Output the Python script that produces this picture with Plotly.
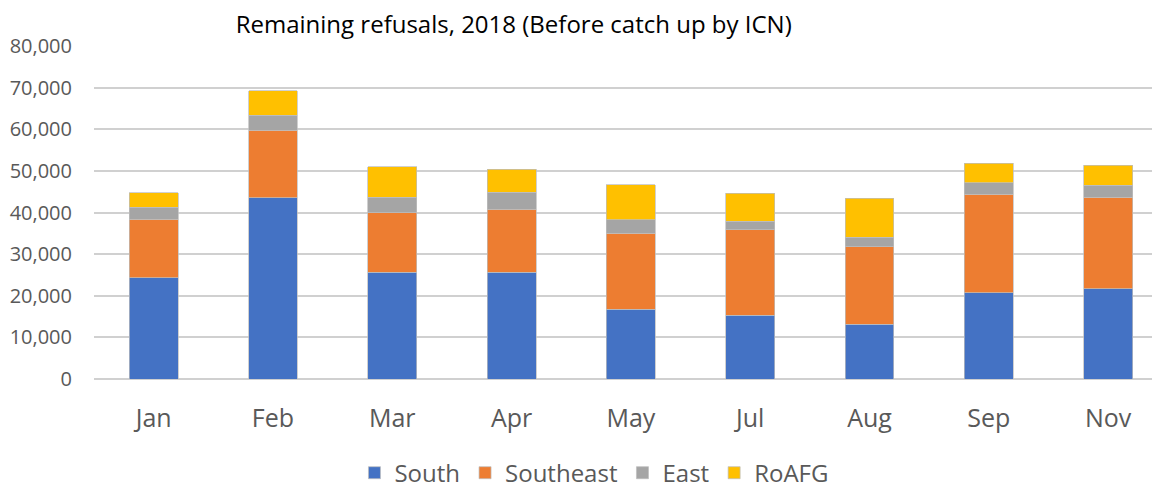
import plotly.graph_objects as go

months = ["Jan", "Feb", "Mar", "Apr", "May", "Jul", "Aug", "Sep", "Nov"]
south = [24300, 43500, 25700, 25700, 16700, 15300, 13200, 20700, 21700]
southeast = [14100, 16300, 14300, 15100, 18300, 20600, 18600, 23700, 22000]
east = [2900, 3600, 3700, 4100, 3200, 2000, 2300, 2800, 2900]
roafg = [3500, 5900, 7300, 5500, 8500, 6700, 9300, 4600, 4700]

series = [
    ("South", south, "#4472C4"),
    ("Southeast", southeast, "#ED7D31"),
    ("East", east, "#A5A5A5"),
    ("RoAFG", roafg, "#FFC000"),
]

FONT = "Open Sans"
fig = go.Figure()
for name, vals, col in series:
    fig.add_trace(go.Bar(
        x=months, y=vals, name=name,
        marker=dict(color=col, line=dict(color="rgba(190,190,190,0.9)", width=0.8)),
    ))

# page body has an 8px margin, so the figure is sized to fill the window from (8, 8)
fig.update_layout(
    barmode="stack",
    bargap=0.59,
    width=1152, height=483,
    margin=dict(l=86, r=0, t=38, b=112, autoexpand=False),
    plot_bgcolor="white", paper_bgcolor="white",
    font=dict(family=FONT, color="#595959"),
    title=dict(
        text="Remaining refusals, 2018 (Before catch up by ICN)",
        x=0.439, xanchor="center", xref="container",
        y=0.966, yanchor="middle", yref="container",
        font=dict(family=FONT, size=24, color="#000000"),
    ),
    xaxis=dict(
        range=[-0.5, 8.435],
        tickfont=dict(size=25, color="#595959"),
        showgrid=False, showline=False, ticks="",
        ticklabelstandoff=22,
    ),
    yaxis=dict(
        range=[0, 80000], dtick=10000, tickformat=",",
        tickfont=dict(size=20, color="#595959"),
        showgrid=True, gridcolor="#D0D0D0", gridwidth=1.5,
        zeroline=True, zerolinecolor="#D0D0D0", zerolinewidth=1.5,
        ticks="", ticklabelstandoff=21,
    ),
    legend=dict(
        orientation="h", x=0.469, xanchor="center",
        y=-0.215, yanchor="top",
        font=dict(size=24, color="#595959"),
        traceorder="normal",
        itemwidth=30,
        tracegroupgap=0,
        borderwidth=0,
    ),
)

fig.write_html("out.html")
